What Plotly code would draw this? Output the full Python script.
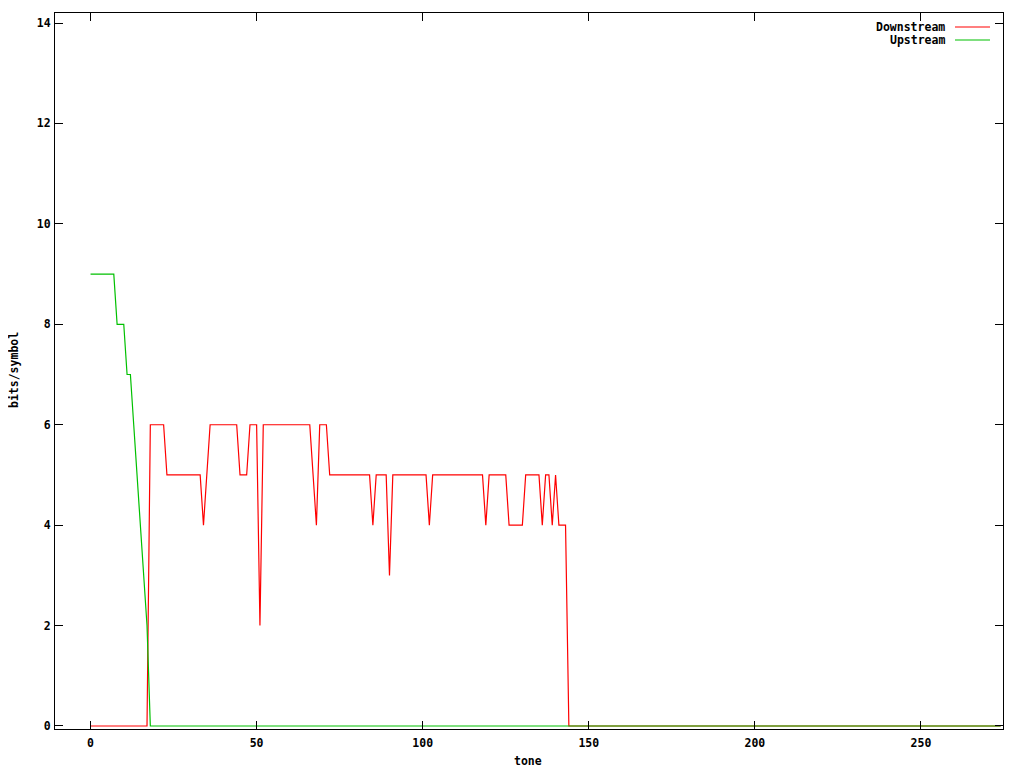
import plotly.graph_objects as go

# tone index 0..274
tones = list(range(275))

# bits per tone (run-length written)
downstream = ([0] * 18 + [6] * 5 + [5] * 11 + [4] + [5] + [6] * 9 + [5] * 3 +
              [6] * 3 + [2] + [6] * 15 + [5] + [4] + [6] * 3 + [5] * 13 + [4] +
              [5] * 4 + [3] + [5] * 11 + [4] + [5] * 16 + [4] + [5] * 6 +
              [4] * 5 + [5] * 5 + [4] + [5] * 2 + [4] + [5] + [4] * 3)
downstream = downstream + [0] * (len(tones) - len(downstream))

upstream = [9] * 8 + [8] * 3 + [7] * 2 + [6, 5, 4, 3, 2, 0]
upstream = upstream + [0] * (len(tones) - len(upstream))

series_names = ["Downstream", "Upstream"]
series_colors = ["#ff0000", "#00c000"]

x_ticks = [0, 50, 100, 150, 200, 250]
y_ticks = [0, 2, 4, 6, 8, 10, 12, 14]

FONT = dict(family="DejaVu Sans Mono", size=11.5, color="black", weight="bold")

fig = go.Figure()
for name, ys, col in zip(series_names, [downstream, upstream], series_colors):
    fig.add_trace(go.Scatter(x=tones, y=ys, mode="lines", name=name,
                             line=dict(color=col, width=1.2),
                             showlegend=False))

axis_common = dict(showgrid=False, zeroline=False, showline=True,
                   linecolor="black", linewidth=1, mirror="ticks",
                   ticks="inside", ticklen=8, tickcolor="black", tickwidth=1,
                   tickfont=FONT)

fig.update_xaxes(range=[-10.7, 274.7], tickvals=x_ticks,
                 ticklabelstandoff=3, **axis_common)
fig.update_yaxes(range=[-0.06, 14.2], tickvals=y_ticks,
                 ticklabelstandoff=1, **axis_common)

# page body has an 8px margin; figure is sized/positioned to compensate
OFF = 8
W, H = 1024 - OFF, 768 - OFF
L, R, T, B = 55 - OFF, 1024 - 1003, 13 - OFF, 768 - 729
pw, ph = W - L - R, H - T - B

def px(x):
    return (x - OFF - L) / pw

def py(y):
    return (H - B - (y - OFF)) / ph

annotations = [
    dict(text="tone", x=px(528), y=py(761), xref="paper", yref="paper",
         showarrow=False, font=FONT, xanchor="center", yanchor="middle"),
    dict(text="bits/symbol", x=px(14), y=py(370), xref="paper", yref="paper",
         showarrow=False, font=FONT, textangle=-90,
         xanchor="center", yanchor="middle"),
]
shapes = []
for i, (name, col) in enumerate(zip(series_names, series_colors)):
    ypix = 27 + 13 * i
    annotations.append(dict(text=name, x=px(947), y=py(ypix), xref="paper",
                            yref="paper", showarrow=False, font=FONT,
                            xanchor="right", yanchor="middle"))
    shapes.append(dict(type="line", xref="paper", yref="paper",
                       x0=px(955), x1=px(990), y0=py(ypix), y1=py(ypix),
                       line=dict(color=col, width=1.2)))

fig.update_layout(width=W, height=H, margin=dict(l=L, r=R, t=T, b=B),
                  paper_bgcolor="white", plot_bgcolor="white",
                  annotations=annotations, shapes=shapes, showlegend=False)

fig.write_html("out.html")
